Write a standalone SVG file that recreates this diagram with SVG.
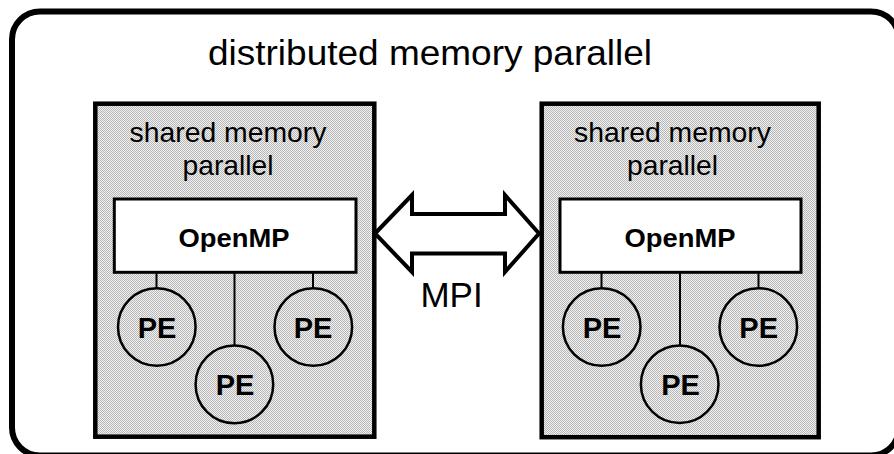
<svg xmlns="http://www.w3.org/2000/svg" width="894" height="454" viewBox="0 0 894 454">
  <defs>
    <!-- halftone grey used for the node backgrounds -->
    <pattern id="halftone" patternUnits="userSpaceOnUse" x="0" y="0" width="2" height="2">
      <rect width="2" height="2" fill="#f2f2f2"/>
      <rect x="0" y="0" width="1" height="1" fill="#b6b6b6"/>
      <rect x="1" y="1" width="1" height="1" fill="#b6b6b6"/>
    </pattern>
    <style>
      .txt { font-family: "Liberation Sans", Arial, Helvetica, sans-serif; fill: #000; }
      .title { font-size: 35px; }
      .label { font-size: 28px; text-anchor: middle; }
      .mpi { font-size: 35px; text-anchor: middle; }
      .bold { font-weight: bold; text-anchor: middle; }
      .frame { fill: #fff; stroke: #000; stroke-width: 6; }
      .box { fill: url(#halftone); stroke: #000; stroke-width: 4.5; }
      .omp { fill: #fff; stroke: #000; stroke-width: 3; }
      .pe { fill: url(#halftone); stroke: #000; stroke-width: 2.5; }
      .link { stroke: #000; stroke-width: 2; fill: none; }
      .arrow { fill: #fff; stroke: #000; stroke-width: 4; stroke-linejoin: miter; }
    </style>
  </defs>

  <rect width="894" height="454" fill="#fff"/>

  <!-- outer frame -->
  <g id="distributed">
    <rect class="frame" x="12" y="11.5" width="887" height="444" rx="28" ry="28"/>
    <text class="txt title" x="208" y="65" textLength="444" lengthAdjust="spacingAndGlyphs">distributed memory parallel</text>
  </g>

  <!-- shared memory nodes -->
  <g id="smp-left">
    <rect class="box" x="95.3" y="103.7" width="279" height="333"/>
    <text class="txt label" x="228" y="141.5" textLength="197" lengthAdjust="spacingAndGlyphs">shared memory</text>
    <text class="txt label" x="228" y="174.5" textLength="91" lengthAdjust="spacingAndGlyphs">parallel</text>
  </g>
  <g id="smp-right">
    <rect class="box" x="541.7" y="103.7" width="277" height="333.5"/>
    <text class="txt label" x="672.5" y="141.5" textLength="197" lengthAdjust="spacingAndGlyphs">shared memory</text>
    <text class="txt label" x="672.5" y="174.5" textLength="91" lengthAdjust="spacingAndGlyphs">parallel</text>
  </g>

  <!-- connectors: OpenMP to PEs, and the MPI link between nodes -->
  <g id="connectors">
    <line class="link" x1="156.5" y1="273" x2="156.5" y2="288.5"/>
    <line class="link" x1="234.5" y1="273" x2="234.5" y2="346"/>
    <line class="link" x1="313" y1="273" x2="313" y2="288.5"/>
    <line class="link" x1="601.5" y1="273" x2="601.5" y2="288.5"/>
    <line class="link" x1="680" y1="273" x2="680" y2="346"/>
    <line class="link" x1="758.5" y1="273" x2="758.5" y2="288.5"/>
    <polygon class="arrow" points="375,233.5 412,195 412,214 505,214 505,195 539,233.5 505,272 505,253.5 412,253.5 412,272"/>
    <text class="txt mpi" x="451.5" y="307">MPI</text>
  </g>

  <!-- OpenMP layers -->
  <g id="openmp-left">
    <rect class="omp" x="114.3" y="199" width="241.7" height="73.3"/>
    <text class="txt bold" x="234" y="246.5" font-size="26" textLength="111" lengthAdjust="spacingAndGlyphs">OpenMP</text>
  </g>
  <g id="openmp-right">
    <rect class="omp" x="560" y="199" width="241" height="73.3"/>
    <text class="txt bold" x="680" y="246.5" font-size="26" textLength="111" lengthAdjust="spacingAndGlyphs">OpenMP</text>
  </g>

  <!-- processing elements -->
  <g id="pe-left-1">
    <circle class="pe" cx="156.8" cy="327" r="38.8"/>
    <text class="txt bold" x="157" y="338" font-size="29">PE</text>
  </g>
  <g id="pe-left-2">
    <circle class="pe" cx="234.4" cy="384.4" r="38.8"/>
    <text class="txt bold" x="235" y="395" font-size="29">PE</text>
  </g>
  <g id="pe-left-3">
    <circle class="pe" cx="313.3" cy="327" r="38.8"/>
    <text class="txt bold" x="313" y="338" font-size="29">PE</text>
  </g>
  <g id="pe-right-1">
    <circle class="pe" cx="601.7" cy="327" r="38.8"/>
    <text class="txt bold" x="602" y="338" font-size="29">PE</text>
  </g>
  <g id="pe-right-2">
    <circle class="pe" cx="679.7" cy="384.2" r="38.8"/>
    <text class="txt bold" x="680.5" y="395" font-size="29">PE</text>
  </g>
  <g id="pe-right-3">
    <circle class="pe" cx="758.3" cy="327" r="38.8"/>
    <text class="txt bold" x="758.7" y="338" font-size="29">PE</text>
  </g>
</svg>
